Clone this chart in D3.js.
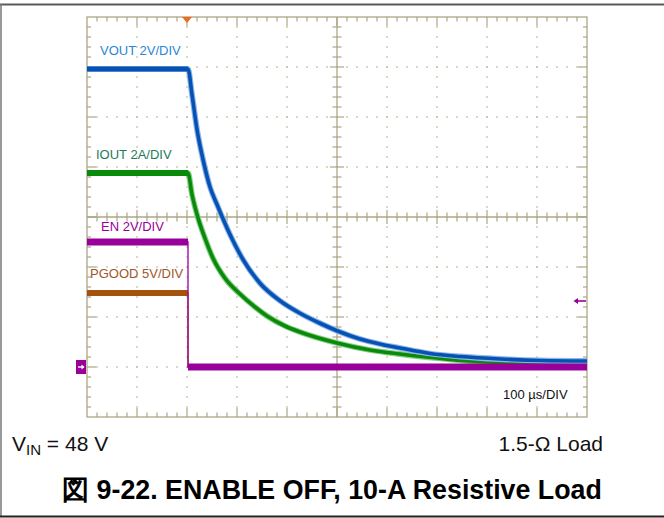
<!DOCTYPE html>
<html>
<head>
<meta charset="utf-8">
<script src="https://cdn.jsdelivr.net/npm/d3@7"></script>
<style>
  html, body { margin: 0; padding: 0; background: #fff; }
  svg { display: block; }
  text { font-family: "Liberation Sans", Arial, Helvetica, sans-serif; }
</style>
</head>
<body>
<svg id="chart" width="664" height="518"></svg>
<script>
// ---------- data (time in µs relative to trigger, values in channel units) ----------
const channelNames  = ["VOUT", "IOUT", "EN", "PGOOD"];
const channelLabels = ["VOUT 2V/DIV", "IOUT 2A/DIV", "EN 2V/DIV", "PGOOD 5V/DIV"];
const unitsPerDiv   = [2, 2, 2, 5];
const timeLabel     = "100 \u00B5s/DIV";

const voutTime  = [-200, 2, 10, 20, 32, 46, 60, 86, 112, 146, 186, 226, 266, 300, 346, 386, 426, 486, 546, 626, 706, 800];
const voutValue = [11.92, 11.92, 10.9, 9.5, 8.3, 7.2, 6.5, 5.3, 4.3, 3.35, 2.65, 2.15, 1.75, 1.45, 1.12, 0.92, 0.76, 0.54, 0.42, 0.32, 0.26, 0.24];

const ioutTime  = [-200, 2, 10, 20, 36, 52, 76, 106, 136, 160, 196, 226, 300, 366, 426, 500, 566, 666, 800];
const ioutValue = [7.76, 7.76, 6.9, 6.1, 5.15, 4.35, 3.55, 2.92, 2.4, 2.04, 1.64, 1.4, 0.96, 0.68, 0.52, 0.36, 0.24, 0.16, 0.12];

const enTime  = [-200, 2, 2, 800];
const enValue = [5.0, 5.0, 0, 0];

const pgoodTime  = [-200, 2, 2, 800];
const pgoodValue = [7.4, 7.4, 0, 0];

const timeDomain = [-200, 800];   // 10 divisions x 100 µs
const divDomain  = [0, 8];        // 8 vertical divisions
const groundDiv  = 1;             // channel ground reference level (divisions)

// ---------- setup ----------
const svg = d3.select("#chart");
const x = d3.scaleLinear().domain(timeDomain).range([87, 587]);
const yDiv = d3.scaleLinear().domain(divDomain).range([417, 17]);
const yOf = (ci) => (v) => yDiv(v / unitsPerDiv[ci] + groundDiv);

const gridColor = "#aca686";
const dotColor  = "#bfba9e";

svg.append("rect").attr("width", 664).attr("height", 518).attr("fill", "#fff");

// ---------- frame ----------
svg.append("line").attr("x1", 0).attr("x2", 664).attr("y1", 4.5).attr("y2", 4.5)
  .attr("stroke", "#5a5a5a").attr("stroke-width", 2);
svg.append("line").attr("x1", 1).attr("x2", 1).attr("y1", 4).attr("y2", 517)
  .attr("stroke", "#777").attr("stroke-width", 1.5);
svg.append("line").attr("x1", 0).attr("x2", 664).attr("y1", 516.5).attr("y2", 516.5)
  .attr("stroke", "#222").attr("stroke-width", 2);

// ---------- graticule ----------
const grid = svg.append("g");
const xDivs = d3.range(timeDomain[0], timeDomain[1] + 1, 100);
const yDivs = d3.range(divDomain[0], divDomain[1] + 0.001, 1);
const xMinor = d3.range(timeDomain[0], timeDomain[1] + 1, 20);
const yMinor = d3.range(0, 8.0001, 0.2).map(v => +v.toFixed(2));
const xCenter = (timeDomain[0] + timeDomain[1]) / 2;
const yCenter = (divDomain[0] + divDomain[1]) / 2;

// dotted division lines
xDivs.slice(1, -1).filter(t => t !== xCenter).forEach(t => {
  yMinor.slice(1, -1).forEach(v => {
    grid.append("rect").attr("x", x(t) - 0.75).attr("y", yDiv(v) - 0.75)
      .attr("width", 1.5).attr("height", 1.5).attr("fill", dotColor);
  });
});
yDivs.slice(1, -1).filter(v => v !== yCenter).forEach(v => {
  xMinor.slice(1, -1).forEach(t => {
    grid.append("rect").attr("x", x(t) - 0.75).attr("y", yDiv(v) - 0.75)
      .attr("width", 1.5).attr("height", 1.5).attr("fill", dotColor);
  });
});

// border
grid.append("rect").attr("x", x(timeDomain[0])).attr("y", yDiv(divDomain[1]))
  .attr("width", x(timeDomain[1]) - x(timeDomain[0]))
  .attr("height", yDiv(divDomain[0]) - yDiv(divDomain[1]))
  .attr("fill", "none").attr("stroke", gridColor).attr("stroke-width", 1.3);

// center axes
grid.append("line").attr("x1", x(xCenter)).attr("x2", x(xCenter))
  .attr("y1", yDiv(8)).attr("y2", yDiv(0)).attr("stroke", gridColor).attr("stroke-width", 1.3);
grid.append("line").attr("x1", x(timeDomain[0])).attr("x2", x(timeDomain[1]))
  .attr("y1", yDiv(yCenter)).attr("y2", yDiv(yCenter)).attr("stroke", gridColor).attr("stroke-width", 1.3);

const isMajorT = t => Math.abs(((t - timeDomain[0]) % 100)) < 1e-6;
const isMajorV = v => Math.abs(v - Math.round(v)) < 1e-6;

// ticks on top/bottom borders and horizontal center axis
xMinor.slice(1, -1).forEach(t => {
  const L = isMajorT(t) ? 9 : 4.5;
  grid.append("line").attr("x1", x(t)).attr("x2", x(t)).attr("y1", yDiv(8)).attr("y2", yDiv(8) + L)
    .attr("stroke", gridColor).attr("stroke-width", 1.2);
  grid.append("line").attr("x1", x(t)).attr("x2", x(t)).attr("y1", yDiv(0)).attr("y2", yDiv(0) - L)
    .attr("stroke", gridColor).attr("stroke-width", 1.2);
  if (t !== xCenter) {
    const c = isMajorT(t) ? 7 : 4.5;
    grid.append("line").attr("x1", x(t)).attr("x2", x(t))
      .attr("y1", yDiv(yCenter) - c).attr("y2", yDiv(yCenter) + c)
      .attr("stroke", gridColor).attr("stroke-width", 1.2);
  }
});
// ticks on left/right borders and vertical center axis
yMinor.slice(1, -1).forEach(v => {
  const L = isMajorV(v) ? 9 : 4;
  grid.append("line").attr("x1", x(timeDomain[0])).attr("x2", x(timeDomain[0]) + L)
    .attr("y1", yDiv(v)).attr("y2", yDiv(v)).attr("stroke", gridColor).attr("stroke-width", 1.2);
  grid.append("line").attr("x1", x(timeDomain[1])).attr("x2", x(timeDomain[1]) - L)
    .attr("y1", yDiv(v)).attr("y2", yDiv(v)).attr("stroke", gridColor).attr("stroke-width", 1.2);
  if (v !== yCenter) {
    const c = isMajorV(v) ? 7 : 4.5;
    grid.append("line").attr("x1", x(xCenter) - c).attr("x2", x(xCenter) + c)
      .attr("y1", yDiv(v)).attr("y2", yDiv(v)).attr("stroke", gridColor).attr("stroke-width", 1.2);
  }
});

// ---------- traces ----------
const traces = svg.append("g");
function zip(ts, vs) { return ts.map((t, i) => [t, vs[i]]); }

function drawStep(ci, ts, vs, color, thick) {
  const y = yOf(ci);
  const pts = zip(ts, vs);
  const line = d3.line().x(d => x(d[0])).y(d => y(d[1]));
  traces.append("path").attr("d", line(pts)).attr("fill", "none")
    .attr("stroke", color).attr("stroke-width", 1.3);
  for (let i = 0; i < pts.length - 1; i++) {
    if (pts[i][1] === pts[i + 1][1]) {
      traces.append("path").attr("d", line([pts[i], pts[i + 1]])).attr("fill", "none")
        .attr("stroke", color).attr("stroke-width", thick);
    }
  }
}

function drawDecay(ci, ts, vs, color, halo, flatThick, thick) {
  const y = yOf(ci);
  const pts = zip(ts, vs);
  const line = d3.line().x(d => x(d[0])).y(d => y(d[1])).curve(d3.curveMonotoneX);
  traces.append("path").attr("d", line(pts)).attr("fill", "none")
    .attr("stroke", halo).attr("stroke-width", thick + 2.2).attr("stroke-linejoin", "round");
  traces.append("path").attr("d", line(pts)).attr("fill", "none")
    .attr("stroke", color).attr("stroke-width", thick).attr("stroke-linejoin", "round");
  // flat pre-trigger level
  traces.append("path").attr("d", d3.line().x(d => x(d[0])).y(d => y(d[1]))(pts.slice(0, 2)))
    .attr("fill", "none").attr("stroke", color).attr("stroke-width", flatThick);
}

drawStep(3, pgoodTime, pgoodValue, "#a4520c", 6);
drawDecay(1, ioutTime, ioutValue, "#0a8a0a", "#86cf86", 6, 3.6);
drawDecay(0, voutTime, voutValue, "#0652b4", "#8fb6e8", 5, 3.6);
drawStep(2, enTime, enValue, "#990099", 7);

// ---------- markers ----------
const gy = yDiv(groundDiv);
svg.append("rect").attr("x", 76).attr("y", gy - 7).attr("width", 10).attr("height", 14).attr("fill", "#990099");
svg.append("line").attr("x1", 78).attr("x2", 84).attr("y1", gy).attr("y2", gy).attr("stroke", "#fff").attr("stroke-width", 1.4);
svg.append("path").attr("d", `M84.5,${gy} L81.5,${gy - 2.5} L81.5,${gy + 2.5} Z`).attr("fill", "#fff");

// right-side channel arrow
const ay = 301;
svg.append("line").attr("x1", 577).attr("x2", 586).attr("y1", ay).attr("y2", ay).attr("stroke", "#990099").attr("stroke-width", 1.6);
svg.append("path").attr("d", `M573.5,${ay} L578,${ay - 3} L578,${ay + 3} Z`).attr("fill", "#990099");

// trigger marker
const tx = x(0);
svg.append("path").attr("d", `M${tx - 5},17 L${tx + 5},17 L${tx},23 Z`).attr("fill", "#f26a1f");

// ---------- labels ----------
const labelPos = [[100, 55], [96, 159], [101, 231], [90, 278]];
const labelColors = ["#2a86d6", "#1d7b5b", "#990099", "#a0562a"];
channelLabels.forEach((s, i) => {
  svg.append("text").attr("x", labelPos[i][0]).attr("y", labelPos[i][1])
    .attr("font-size", 13).attr("fill", labelColors[i]).text(s);
});
svg.append("text").attr("x", 503).attr("y", 399).attr("font-size", 13).attr("fill", "#111").text(timeLabel);

// bottom annotations
const vin = svg.append("text").attr("x", 12).attr("y", 451).attr("font-size", 21).attr("fill", "#111");
vin.append("tspan").text("V");
vin.append("tspan").attr("font-size", 15).attr("dy", 4).text("IN");
vin.append("tspan").attr("dy", -4).text(" = 48 V");
svg.append("text").attr("x", 603).attr("y", 451).attr("text-anchor", "end").attr("font-size", 21)
  .attr("fill", "#111").text("1.5-\u03A9 Load");

svg.append("text").attr("x", 332).attr("y", 499).attr("text-anchor", "middle")
  .attr("font-size", 26.8).attr("font-weight", "bold").attr("fill", "#000")
  .attr("font-family", "'Liberation Sans', 'Noto Sans CJK JP', sans-serif")
  .text("\u56F3 9-22. ENABLE OFF, 10-A Resistive Load");
</script>
</body>
</html>
